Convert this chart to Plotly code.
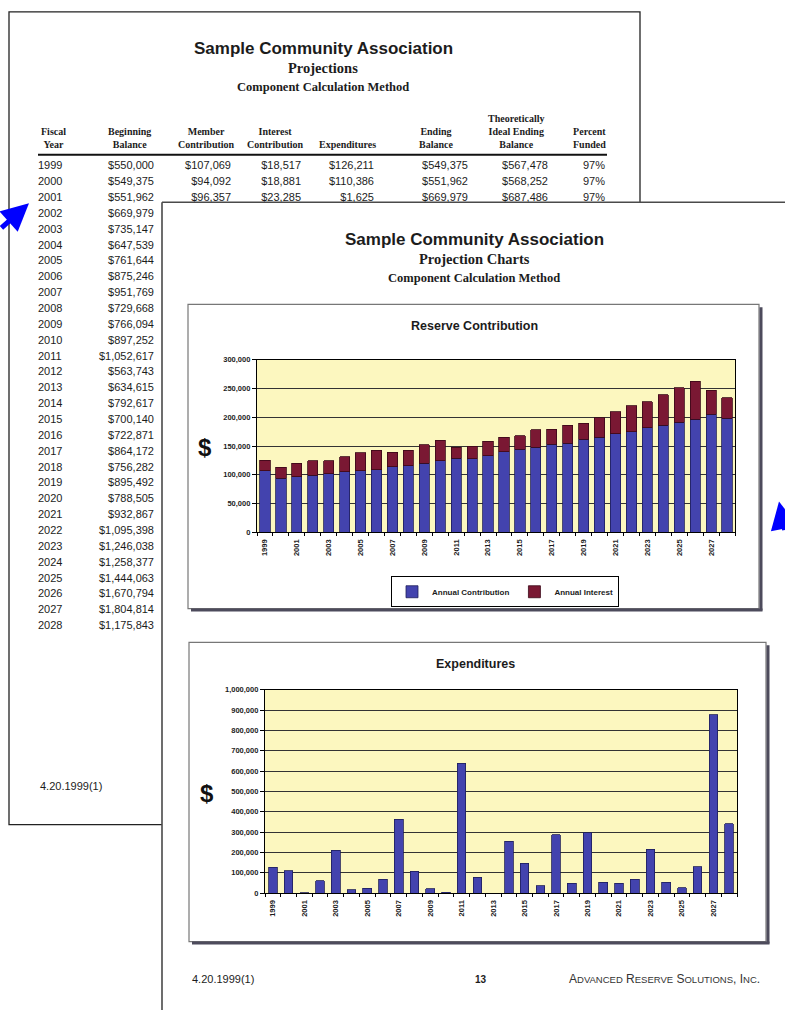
import plotly.graph_objects as go

# ---------------- data ----------------
years = list(range(1999, 2029))
beginning_balance = [550000, 549375, 551962, 669979, 735147, 647539, 761644, 875246, 951769, 729668,
                     766094, 897252, 1052617, 563743, 634615, 792617, 700140, 722871, 864172, 756282,
                     895492, 788505, 932867, 1095398, 1246038, 1258377, 1444063, 1670794, 1804814, 1175843]
annual_contribution = [107069, 94092, 96357, 99000, 102000, 105000, 107000, 109000, 114000, 116000,
                       120000, 124000, 129000, 128000, 133000, 140000, 144000, 148000, 153000, 155000,
                       162000, 165000, 171000, 175000, 182000, 186000, 191000, 197000, 205000, 198000]
annual_interest = [18517, 18881, 23285, 25000, 22000, 26000, 31000, 34000, 25000, 27000,
                   32000, 36000, 19000, 22000, 25000, 25000, 24000, 30000, 26000, 31000,
                   28000, 34000, 39000, 45000, 45000, 53000, 60000, 66000, 42000, 36000]
expenditures = [126211, 110386, 1625, 61000, 210000, 17000, 24000, 67000, 362000, 107000,
                21000, 5000, 638000, 77000, 0, 256000, 146000, 37000, 287000, 48000,
                297000, 54000, 48000, 69000, 215000, 53000, 25000, 129000, 877000, 340000]
ending_balance_top = [549375, 551962, 669979]
ideal_balance_top = [567478, 568252, 687486]
percent_funded_top = [97, 97, 97]
x_tick_years = years[::2]

W, H = 785, 1015
SANS = "Liberation Sans, Arial, sans-serif"
SERIF = "Liberation Serif, Times New Roman, serif"
BLUE = "#4343AE"
RED = "#7A1833"
YELLOW = "#FCF7BF"
TXT = "#1c1c1c"

def money(v):
    return "${:,}".format(v)

fig = go.Figure()

# ---------- back page table body (background axes, pixel coords) ----------
row_y = [164 + 16 * i for i in range(len(years))]
bgax = dict(xaxis="x", yaxis="y", hoverinfo="skip", showlegend=False)
fig.add_trace(go.Scatter(x=[38] * len(years), y=row_y, text=[str(y) for y in years], mode="text",
                         textposition="middle right", textfont=dict(family=SANS, size=11, color=TXT), **bgax))
fig.add_trace(go.Scatter(x=[154] * len(years), y=row_y, text=[money(v) for v in beginning_balance], mode="text",
                         textposition="middle left", textfont=dict(family=SANS, size=11, color=TXT), **bgax))
top_cols = [
    (231, [money(v) for v in annual_contribution[:3]]),
    (301, [money(v) for v in annual_interest[:3]]),
    (374, [money(v) for v in expenditures[:3]]),
    (468, [money(v) for v in ending_balance_top]),
    (548, [money(v) for v in ideal_balance_top]),
    (605, ["{}%".format(v) for v in percent_funded_top]),
]
for cx, vals in top_cols:
    fig.add_trace(go.Scatter(x=[cx] * 3, y=row_y[:3], text=vals, mode="text",
                             textposition="middle left", textfont=dict(family=SANS, size=11, color=TXT), **bgax))

# ---------- front page (white sheet covering the back page) ----------
fig.add_trace(go.Scatter(x=[162, 800, 800, 162, 162], y=[200, 200, 1030, 1030, 200], mode="lines",
                         fill="toself", fillcolor="white", line=dict(color="#4a4a4a", width=1.6), **bgax))

# ---------- chart 1: reserve contribution ----------
fig.add_trace(go.Bar(x=years, y=annual_contribution, name="Annual Contribution", xaxis="x2", yaxis="y2",
                     marker=dict(color=BLUE, line=dict(color="#1e1e5a", width=0.8))))
fig.add_trace(go.Bar(x=years, y=annual_interest, name="Annual Interest", xaxis="x2", yaxis="y2",
                     marker=dict(color=RED, line=dict(color="#3a0816", width=0.8))))

# ---------- chart 2: expenditures ----------
fig.add_trace(go.Bar(x=years, y=expenditures, name="Expenditures", xaxis="x3", yaxis="y3", showlegend=False,
                     width=0.55, marker=dict(color=BLUE, line=dict(color="#1e1e5a", width=0.8))))

def xaxis_cfg(dom):
    return dict(domain=dom, range=[1998.5, 2028.5], tickmode="array", tickvals=x_tick_years,
                ticktext=[str(y) for y in x_tick_years], tickangle=-90,
                tickfont=dict(family=SANS, size=7.5, color=TXT, weight="bold"),
                showline=True, mirror=True, linecolor="black", linewidth=1.2, ticks="",
                minor=dict(tickvals=[y - 0.5 for y in years] + [2028.5], ticks="outside", ticklen=3,
                           tickcolor="black"),
                showgrid=False, zeroline=False, fixedrange=True, ticklabelstandoff=3)

def yaxis_cfg(dom, top, step):
    return dict(domain=dom, range=[0, top], dtick=step, tick0=0, tickformat=",",
                tickfont=dict(family=SANS, size=7.5, color=TXT, weight="bold"),
                showline=True, mirror=True, linecolor="black", linewidth=1.2,
                ticks="outside", ticklen=4, tickcolor="black",
                showgrid=True, gridcolor="#333333", gridwidth=1, zeroline=False, fixedrange=True)

def fx(px):
    return px / W

def fy(py):
    return 1 - py / H

shapes = [
    # back page border
    dict(type="rect", xref="x", yref="y", x0=9, y0=8, x1=640, y1=828, line=dict(color="#222", width=1.3),
         layer="below"),
    # chart backgrounds
    dict(type="rect", xref="x2", yref="y2", x0=1998.5, x1=2028.5, y0=0, y1=300000, fillcolor=YELLOW,
         line=dict(width=0), layer="below"),
    dict(type="rect", xref="x3", yref="y3", x0=1998.5, x1=2028.5, y0=0, y1=1000000, fillcolor=YELLOW,
         line=dict(width=0), layer="below"),
    # chart boxes and shadows
    dict(type="rect", xref="x", yref="y", x0=188, y0=303, x1=759, y1=610, line=dict(color="#777", width=1.2),
         layer="above"),
    dict(type="line", xref="x", yref="y", x0=761, y0=306, x1=761, y1=612, line=dict(color="#4d4b5c", width=3),
         layer="above"),
    dict(type="line", xref="x", yref="y", x0=191, y0=611.5, x1=762.5, y1=611.5,
         line=dict(color="#4d4b5c", width=3), layer="above"),
    dict(type="rect", xref="x", yref="y", x0=189, y0=644, x1=766, y1=946, line=dict(color="#777", width=1.2),
         layer="above"),
    dict(type="line", xref="x", yref="y", x0=768, y0=647, x1=768, y1=948, line=dict(color="#4d4b5c", width=3),
         layer="above"),
    dict(type="line", xref="x", yref="y", x0=192, y0=947.5, x1=769.5, y1=947.5,
         line=dict(color="#4d4b5c", width=3), layer="above"),
    # table header rule
    dict(type="line", xref="x", yref="y", x0=38, y0=152, x1=607, y1=152, line=dict(color="#111", width=2),
         layer="below"),
]

ann = []

def A(x, y, text, size, family=SANS, xanchor="center", yanchor="middle", color=TXT, align="center"):
    ann.append(dict(xref="x", yref="y", x=x, y=y, text=text, showarrow=False, xanchor=xanchor,
                    yanchor=yanchor, align=align, font=dict(family=family, size=size, color=color)))

# back page titles
A(323, 45, "<b>Sample Community Association</b>", 17)
A(323, 65, "<b>Projections</b>", 14.5, SERIF)
A(323, 84, "<b>Component Calculation Method</b>", 12.5, SERIF)
headers = [(53, "Fiscal<br>Year"), (129, "Beginning<br>Balance"), (206, "Member<br>Contribution"),
           (275, "Interest<br>Contribution"), (347, "Expenditures"), (436, "Ending<br>Balance"),
           (516, "Theoretically<br>Ideal Ending<br>Balance"), (589, "Percent<br>Funded")]
for hx, ht in headers:
    A(hx, 149, "<b>" + ht + "</b>", 10, SERIF, yanchor="bottom")
A(38, 789, "4.20.1999(1)", 11, xanchor="left")

# front page titles
A(474, 238, "<b>Sample Community Association</b>", 17)
A(474, 257, "<b>Projection Charts</b>", 14.5, SERIF)
A(474, 276, "<b>Component Calculation Method</b>", 12.5, SERIF)
A(474, 325, "<b>Reserve Contribution</b>", 12.5)
A(475, 666, "<b>Expenditures</b>", 12.5)
A(205, 447, "<b>$</b>", 24, color="#111")
A(207, 797, "<b>$</b>", 24, color="#111")
A(190, 984, "4.20.1999(1)", 11, xanchor="left")
A(481, 984, "<b>13</b>", 10)
sc = "font-size:9.5px"
A(567, 984, ("A<span style='%s'>DVANCED</span> R<span style='%s'>ESERVE</span> "
             "S<span style='%s'>OLUTIONS</span>, I<span style='%s'>NC</span>.") % (sc, sc, sc, sc),
  12, xanchor="left", color="#333")

# arrows
ann.append(dict(xref="x", yref="y", x=29, y=201, ax=-32, ay=26, text="", showarrow=True, arrowhead=2,
                arrowsize=1.1, arrowwidth=5, arrowcolor="#0000FF", standoff=0))
ann.append(dict(xref="x", yref="y", x=779, y=502, ax=30, ay=30, text="", showarrow=True, arrowhead=2,
                arrowsize=1.1, arrowwidth=5, arrowcolor="#0000FF", standoff=0))

fig.update_layout(
    width=W, height=H, margin=dict(l=0, r=0, t=0, b=0),
    paper_bgcolor="white", plot_bgcolor="rgba(0,0,0,0)",
    barmode="stack", bargap=0.36,
    xaxis=dict(domain=[0, 1], range=[0, W], visible=False, fixedrange=True),
    yaxis=dict(domain=[0, 1], range=[H, 0], visible=False, fixedrange=True),
    xaxis2=dict(anchor="y2", **xaxis_cfg([fx(257), fx(735)])),
    yaxis2=dict(anchor="x2", **yaxis_cfg([fy(533), fy(359)], 300000, 50000)),
    xaxis3=dict(anchor="y3", **xaxis_cfg([fx(265), fx(737)])),
    yaxis3=dict(anchor="x3", **yaxis_cfg([fy(897), fy(692)], 1000000, 100000)),
    legend=dict(orientation="h", x=fx(505), y=fy(593), xanchor="center", yanchor="middle",
                bgcolor="white", bordercolor="black", borderwidth=1, itemwidth=30,
                font=dict(family=SANS, size=8, color=TXT, weight="bold"), tracegroupgap=0,
                traceorder="normal"),
    shapes=shapes, annotations=ann, hovermode=False,
)

fig.write_html("out.html", config={"displayModeBar": False},
               post_script="document.body.style.margin='0px';")
